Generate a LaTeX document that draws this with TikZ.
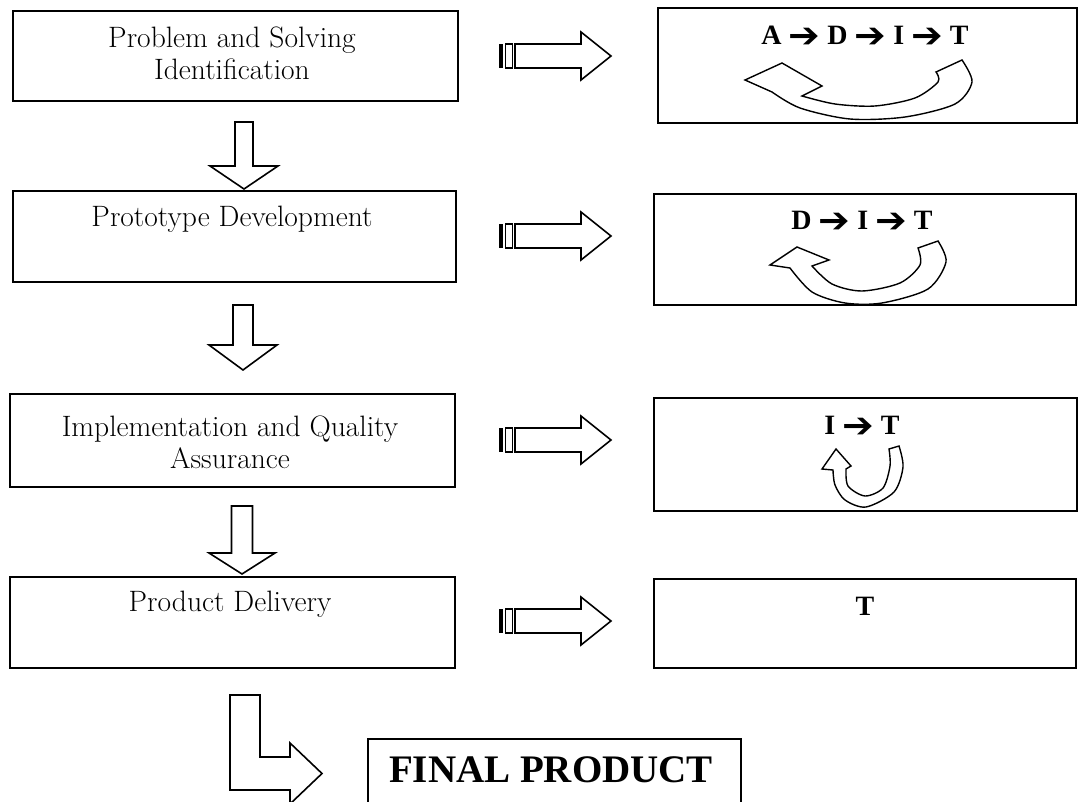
\documentclass[tikz,border=0pt]{standalone}
\usepackage{fontspec}
\newfontfamily\dvsans{DejaVu Sans}
\newfontfamily\libserif{Liberation Serif}
\newcommand\hvarr{\raisebox{-0.1em}{\scalebox{1.35}[1.25]{\dvsans\bfseries ➔}}}
\newcommand\striparrow[1]{%
  \fill (499,{#1-12}) rectangle (503,{#1+12});
  \draw[line width=1.2pt] (505.5,{#1-12}) rectangle (512.5,{#1+12});
  \draw[blk] (515,{#1-12}) -- (581,{#1-12}) -- (581,{#1-24}) -- (611,#1) -- (581,{#1+24}) -- (581,{#1+12}) -- (515,{#1+12}) -- cycle;}
\newcommand\dnarrow[6]{%
  \draw[blk] ({#1-#2},#4) -- ({#1+#2},#4) -- ({#1+#2},#5) -- ({#1+#3},#5) -- (#1,#6) -- ({#1-#3},#5) -- ({#1-#2},#5) -- cycle;}
\begin{document}
\begin{tikzpicture}[x=1pt,y=-1pt,
  box/.style={draw, line width=1.6pt, inner sep=0pt, anchor=north west},
  blk/.style={draw, line width=1.6pt, fill=white, line join=miter},
  uarr/.style={draw, line width=1.4pt, fill=white, line join=miter},
  ltxt/.style={font=\fontsize{29.5}{32}\selectfont, align=center, inner sep=0pt},
  rtxt/.style={font=\libserif\bfseries\fontsize{28}{30}\selectfont, inner sep=0pt},
  ftxt/.style={font=\libserif\bfseries\fontsize{39}{44}\selectfont, inner sep=0pt}
]
\useasboundingbox (0,0) rectangle (1078,802);
\clip (0,0) rectangle (1078,802);
\fill[white] (0,0) rectangle (1078,802);

% left boxes
\node[box, minimum width=445pt, minimum height=90pt] (b1) at (12,10) {};
\node[box, minimum width=443pt, minimum height=91pt] (b2) at (12,190) {};
\node[box, minimum width=445pt, minimum height=93pt] (b3) at (9,393) {};
\node[box, minimum width=445pt, minimum height=91pt] (b4) at (9,576) {};
\node[ltxt] (t1) at (232,53) {Problem and Solving\\Identification};
\node[ltxt] (t2) at (232,219) {Prototype Development};
\node[ltxt] (t3) at (230,442) {Implementation and Quality\\Assurance};
\node[ltxt] (t4) at (230,604) {Product Delivery};

% right boxes
\node[box, minimum width=419pt, minimum height=115pt] (r1) at (657,7) {};
\node[box, minimum width=422pt, minimum height=111pt] (r2) at (653,193) {};
\node[box, minimum width=423pt, minimum height=113pt] (r3) at (653,397) {};
\node[box, minimum width=422pt, minimum height=89pt] (r4) at (653,578) {};
\node[rtxt] (rt1) at (865,37) {A \hvarr{} D \hvarr{} I \hvarr{} T};
\node[rtxt] (rt2) at (862,222) {D \hvarr{} I \hvarr{} T};
\node[rtxt] (rt3) at (862,427) {I \hvarr{} T};
\node[rtxt] (rt4) at (865,606) {T};

% final product
\node[box, minimum width=373pt, minimum height=100pt] (fp) at (367,738) {};
\node[ftxt] (ft) at (551,770) {FINAL PRODUCT};

% striped right arrows
\striparrow{56}
\striparrow{236}
\striparrow{440}
\striparrow{621}

% down arrows
\dnarrow{244}{9}{34}{122}{166}{189}
\dnarrow{243}{10}{34}{305}{345}{370}
\dnarrow{242}{10.5}{33}{506}{553}{574}

% L-shaped arrow
\draw[blk] (230,695) -- (260,695) -- (260,757) -- (290,757) -- (290,743) -- (322,773.5) -- (290,804) -- (290,790) -- (230,790) -- cycle;

% curved arrows in right boxes
\draw[uarr] (962,60) -- plot[smooth] coordinates {(962,60) (972,82) (955,104) (905,117) (850,119) (800,108) (772,92)}
  -- (745,80) -- (782,63) -- (822,86)
  -- plot[smooth] coordinates {(802,96) (835,104) (875,106) (915,98) (938,82) (936,72)} -- cycle;
\draw[uarr] (938,241) -- plot[smooth] coordinates {(938,241) (946,262) (928,289) (882,303) (845,303) (812,292) (790,268)}
  -- (770,265) -- (797,247) -- (829,260)
  -- plot[smooth] coordinates {(812,266) (832,284) (862,291) (900,283) (920,265) (918,248)} -- cycle;
\draw[uarr] (899,446) -- plot[smooth] coordinates {(899,446) (903,467) (894,492) (866,507) (845,500) (835,485) (833,470)}
  -- (822,469) -- (836,449) -- (851,466)
  -- plot[smooth] coordinates {(846,469) (848,486) (865,496) (883,488) (890,466) (889,449)} -- cycle;
\end{tikzpicture}
\end{document}
